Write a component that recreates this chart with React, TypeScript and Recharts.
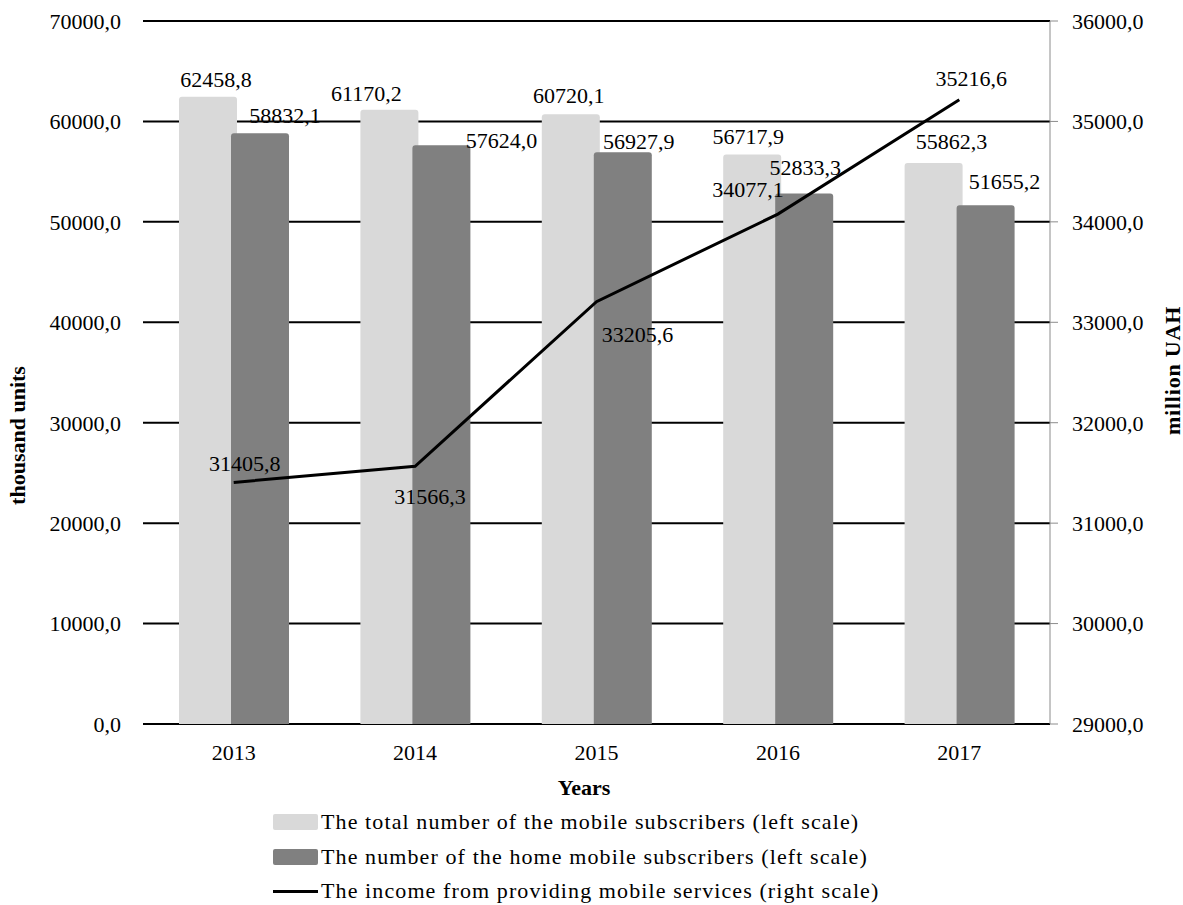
import React from "react";
import {
  ComposedChart,
  Bar,
  Line,
  XAxis,
  YAxis,
  CartesianGrid,
  LabelList,
} from "recharts";

const years = ["2013", "2014", "2015", "2016", "2017"];
const totalSubscribers = [62458.8, 61170.2, 60720.1, 56717.9, 55862.3];
const homeSubscribers = [58832.1, 57624.0, 56927.9, 52833.3, 51655.2];
const income = [31405.8, 31566.3, 33205.6, 34077.1, 35216.6];

const leftTicks = [0, 10000, 20000, 30000, 40000, 50000, 60000, 70000];
const rightTicks = [29000, 30000, 31000, 32000, 33000, 34000, 35000, 36000];

const seriesNames = [
  "The total number of the mobile subscribers (left scale)",
  "The number of the home mobile subscribers (left scale)",
  "The income from providing mobile services (right scale)",
];

const data = years.map((year, i) => ({
  year,
  total: totalSubscribers[i],
  home: homeSubscribers[i],
  income: income[i],
}));

const FONT = "'Liberation Serif', 'Times New Roman', serif";
const SIZE = 22;

// label nudges as placed in the original (dx, dy from bar top centre / point)
const totalOffsets = [[8, -17], [-23, -16], [-2, -19], [-4, -18], [18, -21]];
const homeOffsets = [[25, -18], [60, -5], [16, -11], [1, -26], [19, -24]];
const incomeOffsets = [[11, -19], [15, 30], [41, 33], [-30, -25], [12, -21]];

const fmt = (v: number) => v.toFixed(1).replace(".", ",");

const makeLabel = (offsets: number[][]) => (props: any) => {
  const vb = props.viewBox || {};
  const x = props.x ?? vb.x;
  const y = props.y ?? vb.y;
  const w = props.width ?? vb.width ?? 0;
  const idx = props.index ?? 0;
  const [dx, dy] = offsets[idx] || [0, 0];
  return (
    <text
      x={x + w / 2 + dx}
      y={y + dy}
      textAnchor="middle"
      dominantBaseline="central"
      fontFamily={FONT}
      fontSize={SIZE}
      fill="#000"
    >
      {fmt(Number(props.value))}
    </text>
  );
};

const LeftTitle = (props: any) => {
  const vb = props.viewBox;
  const x = vb.x + 17;
  const y = vb.y + vb.height / 2 + 63;
  return (
    <text
      x={x}
      y={y}
      transform={`rotate(-90 ${x} ${y})`}
      textAnchor="middle"
      dominantBaseline="central"
      fontFamily={FONT}
      fontSize={SIZE}
      fontWeight="bold"
    >
      thousand units
    </text>
  );
};

const RightTitle = (props: any) => {
  const vb = props.viewBox;
  const x = vb.x + 122;
  const y = vb.y + vb.height / 2 - 2;
  return (
    <text
      x={x}
      y={y}
      transform={`rotate(-90 ${x} ${y})`}
      textAnchor="middle"
      dominantBaseline="central"
      fontFamily={FONT}
      fontSize={SIZE}
      fontWeight="bold"
      letterSpacing={0.8}
    >
      million UAH
    </text>
  );
};

const XTitle = (props: any) => {
  const vb = props.viewBox;
  return (
    <text
      x={584}
      y={vb.y + 63}
      textAnchor="middle"
      dominantBaseline="central"
      fontFamily={FONT}
      fontSize={SIZE}
      fontWeight="bold"
    >
      Years
    </text>
  );
};

const tickStyle = { fontFamily: FONT, fontSize: SIZE, fill: "#000" };

const App = () => {
  return (
    <div style={{ position: "absolute", left: 0, top: 0, width: 1183, height: 905, background: "#fff" }}>
      <ComposedChart
        width={1183}
        height={905}
        data={data}
        margin={{ top: 21, right: 0, bottom: 101, left: 0 }}
        barSize={58}
        barGap={-6}
      >
        <CartesianGrid yAxisId="left" vertical={false} stroke="#000" strokeWidth={2} />
        <XAxis
          dataKey="year"
          axisLine={false}
          tickLine={false}
          tickSize={0}
          tickMargin={20}
          height={80}
          tick={tickStyle}
          label={<XTitle />}
        />
        <YAxis
          yAxisId="left"
          domain={[0, 70000]}
          ticks={leftTicks}
          tickFormatter={fmt}
          axisLine={false}
          tickLine={false}
          tickSize={0}
          tickMargin={22}
          width={143}
          tick={tickStyle}
          label={<LeftTitle />}
        />
        <YAxis
          yAxisId="right"
          orientation="right"
          domain={[29000, 36000]}
          ticks={rightTicks}
          tickFormatter={fmt}
          axisLine={{ stroke: "#8c8c8c", strokeWidth: 1 }}
          tickLine={{ stroke: "#8c8c8c", strokeWidth: 1 }}
          tickSize={8}
          tickMargin={14}
          width={133}
          tick={tickStyle}
          label={<RightTitle />}
        />
        <Bar
          yAxisId="left"
          dataKey="total"
          name={seriesNames[0]}
          fill="#d9d9d9"
          radius={[3, 3, 0, 0]}
          isAnimationActive={false}
        >
          <LabelList dataKey="total" content={makeLabel(totalOffsets)} />
        </Bar>
        <Bar
          yAxisId="left"
          dataKey="home"
          name={seriesNames[1]}
          fill="#808080"
          radius={[3, 3, 0, 0]}
          isAnimationActive={false}
        >
          <LabelList dataKey="home" content={makeLabel(homeOffsets)} />
        </Bar>
        <Line
          yAxisId="right"
          type="linear"
          dataKey="income"
          name={seriesNames[2]}
          stroke="#000"
          strokeWidth={3}
          dot={false}
          isAnimationActive={false}
        >
          <LabelList dataKey="income" content={makeLabel(incomeOffsets)} />
        </Line>
      </ComposedChart>
      <div
        style={{
          position: "absolute",
          left: 273,
          top: 805,
          fontFamily: FONT,
          fontSize: SIZE,
          letterSpacing: "1.1px",
          color: "#000",
          lineHeight: "34.5px",
        }}
      >
        {seriesNames.map((name, i) => (
          <div key={name} style={{ display: "flex", alignItems: "center", whiteSpace: "nowrap" }}>
            {i < 2 ? (
              <span
                style={{
                  display: "inline-block",
                  width: 45,
                  height: 16,
                  background: i === 0 ? "#d9d9d9" : "#808080",
                  borderRadius: 2,
                  marginRight: 3,
                }}
              />
            ) : (
              <span
                style={{
                  display: "inline-block",
                  width: 45,
                  height: 3,
                  background: "#000",
                  marginRight: 3,
                }}
              />
            )}
            <span>{name}</span>
          </div>
        ))}
      </div>
    </div>
  );
};

export default App;
